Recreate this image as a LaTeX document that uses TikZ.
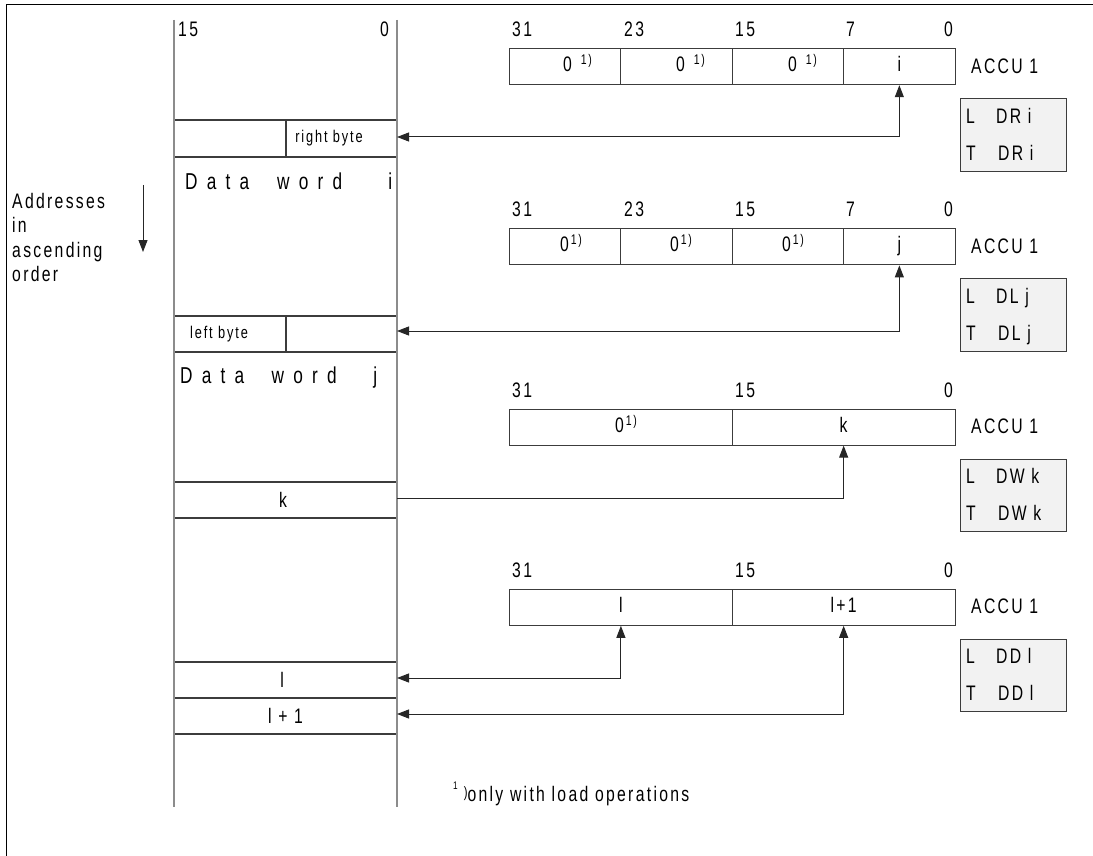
\documentclass[tikz,border=0pt]{standalone}
\usepackage{fontspec}
\setmainfont[FakeStretch=0.75,LetterSpace=11]{Liberation Sans}
\usetikzlibrary{arrows.meta}
\definecolor{memgray}{HTML}{8C8C8C}
\definecolor{linegray}{HTML}{3C3C3C}
\definecolor{boxfill}{HTML}{F2F2F2}
\newcommand{\zsup}{\raisebox{7pt}{\fontsize{14}{14}\selectfont 1)}}
\tikzset{
  txt/.style={inner sep=0pt, font=\fontsize{21}{24}\selectfont},
  small/.style={inner sep=0pt, font=\fontsize{17}{20}\selectfont},
  big/.style={inner sep=0pt, font=\fontsize{23}{26}\selectfont},
  bw/.style={txt, anchor=base west},
  be/.style={txt, anchor=base east},
  cell/.style={draw=linegray, line width=1pt, minimum height=36pt, inner sep=0pt},
  c1/.style={cell, minimum width=111.4pt},
  c2/.style={cell, minimum width=222.8pt},
  ldbox/.style={draw=linegray, fill=boxfill, line width=1pt, minimum width=106pt, minimum height=72.3pt, inner sep=0pt},
  conn/.style={draw=black!85, line width=1pt},
  tip/.style={-{Triangle[length=12pt,width=9pt]}},
  dtip/.style={{Triangle[length=12pt,width=9pt]}-{Triangle[length=12pt,width=9pt]}},
  memline/.style={draw=memgray, line width=1.4pt},
  rowline/.style={draw=linegray, line width=1.2pt},
}
\begin{document}
\begin{tikzpicture}[x=1pt,y=-1pt]
\useasboundingbox (0,0) rectangle (1093,856);
% frame
\draw[line width=1.5pt] (6.5,856) -- (6.5,4.5) -- (1093,4.5);

% ---------------- memory column ----------------
\draw[rowline] (174,120) -- (397,120) (174,157) -- (397,157);
\draw[rowline] (286,120) -- (286,157);
\draw[rowline] (174,316) -- (397,316) (174,352) -- (397,352);
\draw[rowline] (286,316) -- (286,352);
\draw[rowline] (174,482) -- (397,482) (174,518) -- (397,518);
\draw[rowline] (174,662) -- (397,662);
\draw[rowline] (174,698) -- (397,698) (174,734) -- (397,734);
\draw[memline] (174,20) -- (174,807);
\draw[memline] (397,20) -- (397,807);

\node[bw] (m15) at (178,36.7) {15};
\node[be] (m0) at (389,36.7) {0};
\node[small] (rb) at (329,138.5) {right byte};
\node[small] (lb) at (219,334) {left byte};
\node[big, anchor=base west] (dwi) at (185,189.5) {\makebox[207pt][s]{D\hfill a\hfill t\hfill a\hfill\hfill\hfill w\hfill o\hfill r\hfill d\hfill\hfill\hfill\hfill\hfill i}};
\node[big, anchor=base west] (dwj) at (180,383) {\makebox[197pt][s]{D\hfill a\hfill t\hfill a\hfill\hfill\hfill w\hfill o\hfill r\hfill d\hfill\hfill\hfill\hfill j}};
\node[txt] (mk) at (283,500) {k};
\node[txt] (ml) at (282,680) {l};
\node[txt] (ml1) at (285.5,716) {l + 1};

\coordinate (rbE) at (397,137);
\coordinate (lbE) at (397,331);
\coordinate (kE) at (397,498);
\coordinate (lE) at (397,678);
\coordinate (l1E) at (397,714);

% addresses
\node[bw] (addr) at (12,208) {Addresses};
\node[bw] (addr2) at (12,232.5) {in};
\node[bw] (addr3) at (12,257) {ascending};
\node[bw] (addr4) at (12,281.5) {order};
\coordinate (ad1) at (143,185);
\coordinate (ad2) at (143,252);
\draw[conn, tip] (ad1) -- (ad2);

% ---------------- group 1 : DR i ----------------
\node[bw] at (512,36.7) {31};
\node[bw] at (624,36.7) {23};
\node[bw] at (735,36.7) {15};
\node[bw] at (846,36.7) {7};
\node[be] at (953,36.7) {0};
\node[c1] (a1c1) at (565.2,66.7) {};
\node[c1] (a1c2) at (676.6,66.7) {};
\node[c1] (a1c3) at (788,66.7) {};
\node[c1] (a1c4) at (899.35,66.7) {};
\node[bw] at (563,71.7) {0\hspace{9pt}\zsup};
\node[bw] at (676,71.7) {0\hspace{9pt}\zsup};
\node[bw] at (788,71.7) {0\hspace{9pt}\zsup};
\node[txt, anchor=base] at (899.35,71.7) {i};
\node[bw] (acc1) at (971,73.3) {ACCU 1};
\node[ldbox] (ld1) at (1013,134.9) {};
\node[bw] at (966,123.2) {L};
\node[bw] at (996,123.2) {DR i};
\node[bw] at (966,160.2) {T};
\node[bw] at (998,160.2) {DR i};
\draw[conn, dtip] (a1c4.south) |- (rbE);

% ---------------- group 2 : DL j ----------------
\node[bw] at (512,216.9) {31};
\node[bw] at (624,216.9) {23};
\node[bw] at (735,216.9) {15};
\node[bw] at (846,216.9) {7};
\node[be] at (953,216.9) {0};
\node[c1] (a2c1) at (565.2,246.9) {};
\node[c1] (a2c2) at (676.6,246.9) {};
\node[c1] (a2c3) at (788,246.9) {};
\node[c1] (a2c4) at (899.35,246.9) {};
\node[bw] at (560,251.9) {0\hspace{2pt}\zsup};
\node[bw] at (670,251.9) {0\hspace{2pt}\zsup};
\node[bw] at (782,251.9) {0\hspace{2pt}\zsup};
\node[txt, anchor=base] at (899.35,251.9) {j};
\node[bw] (acc2) at (971,253.5) {ACCU 1};
\node[ldbox] (ld2) at (1013,315.1) {};
\node[bw] at (966,303.4) {L};
\node[bw] at (996,303.4) {DL j};
\node[bw] at (966,340.4) {T};
\node[bw] at (998,340.4) {DL j};
\draw[conn, dtip] (a2c4.south) |- (lbE);

% ---------------- group 3 : DW k ----------------
\node[bw] at (512,397.1) {31};
\node[bw] at (735,397.1) {15};
\node[be] at (953,397.1) {0};
\node[c2] (a3lo) at (620.9,427.1) {};
\node[c2] (a3hi) at (843.65,427.1) {};
\node[bw] at (615,432.1) {0\hspace{2pt}\zsup};
\node[txt, anchor=base] at (843.65,432.1) {k};
\node[bw] (acc3) at (971,433.7) {ACCU 1};
\node[ldbox] (ld3) at (1013,495.3) {};
\node[bw] at (966,483.6) {L};
\node[bw] at (996,483.6) {DW k};
\node[bw] at (966,520.6) {T};
\node[bw] at (998,520.6) {DW k};
\draw[conn, tip] (kE) -| (a3hi.south);

% ---------------- group 4 : DD l ----------------
\node[bw] at (512,577.3) {31};
\node[bw] at (735,577.3) {15};
\node[be] at (953,577.3) {0};
\node[c2] (a4lo) at (620.9,607.3) {};
\node[c2] (a4hi) at (843.65,607.3) {};
\node[txt, anchor=base] at (620.9,612.3) {l};
\node[txt, anchor=base] at (843.65,612.3) {l+1};
\node[bw] (acc4) at (971,613.9) {ACCU 1};
\node[ldbox] (ld4) at (1013,675.5) {};
\node[bw] at (966,663.8) {L};
\node[bw] at (996,663.8) {DD l};
\node[bw] at (966,700.8) {T};
\node[bw] at (998,700.8) {DD l};
\draw[conn, dtip] (a4lo.south) |- (lE);
\draw[conn, dtip] (a4hi.south) |- (l1E);

% footnote
\node[bw] (fn) at (453,801.5) {\raisebox{12pt}{\fontsize{11}{11}\selectfont 1}\hspace{6pt}\raisebox{4pt}{\fontsize{15}{15}\selectfont )}only with load operations};
\end{tikzpicture}
\end{document}
